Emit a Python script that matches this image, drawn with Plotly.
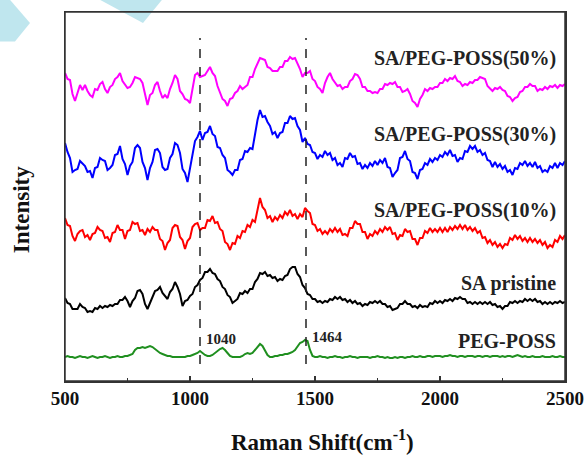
import plotly.graph_objects as go

# Raman shift axis (cm^-1), sampled every 10 cm^-1
raman_shift = list(range(500, 2501, 10))

# Raw intensities (a.u.)
peg_poss_50 = [
    37, 31, 30, 16, 9, 17, 25, 20, 25, 19,
    15, 13, 21, 20, 26, 28, 21, 17, 23, 25,
    31, 33, 37, 29, 25, 22, 23, 27, 33, 32,
    31, 27, 16, 5, 15, 17, 25, 28, 19, 12,
    15, 12, 21, 27, 35, 31, 19, 16, 11, 10,
    7, 21, 35, 37, 33, 34, 35, 39, 43, 37,
    34, 24, 18, 11, 9, 4, 11, 12, 17, 19,
    24, 21, 23, 25, 33, 33, 41, 47, 52, 51,
    50, 43, 42, 39, 39, 39, 43, 43, 49, 49,
    53, 51, 52, 46, 41, 33, 37, 37, 39, 31,
    29, 23, 21, 17, 27, 33, 37, 31, 27, 24,
    25, 21, 23, 23, 29, 31, 36, 35, 31, 23,
    23, 19, 19, 17, 18, 17, 21, 21, 26, 25,
    27, 26, 28, 23, 23, 18, 19, 21, 16, 9,
    7, 3, 11, 15, 21, 19, 22, 21, 23, 23,
    27, 27, 31, 29, 32, 31, 34, 29, 28, 24,
    26, 25, 28, 27, 30, 30, 33, 32, 31, 24,
    21, 19, 22, 21, 23, 20, 19, 14, 13, 9,
    12, 13, 18, 19, 23, 23, 26, 24, 24, 19,
    21, 20, 23, 21, 24, 23, 25, 22, 25, 24,
    26,
]

peg_poss_30 = [
    42, 33, 27, 13, 15, 16, 24, 21, 19, 13,
    14, 7, 17, 18, 27, 25, 24, 15, 17, 20,
    30, 31, 39, 26, 21, 10, 19, 23, 37, 40,
    37, 23, 17, 5, 17, 23, 35, 36, 32, 18,
    15, 16, 27, 31, 42, 40, 32, 16, 12, 3,
    17, 28, 44, 48, 54, 45, 52, 53, 59, 51,
    49, 38, 37, 30, 27, 15, 13, 10, 15, 15,
    25, 26, 34, 33, 37, 36, 52, 65, 75, 68,
    69, 63, 59, 51, 53, 47, 52, 53, 62, 62,
    69, 66, 67, 59, 55, 43, 47, 41, 40, 33,
    32, 26, 30, 28, 34, 30, 32, 25, 27, 20,
    22, 18, 27, 26, 32, 28, 29, 21, 22, 16,
    20, 17, 22, 19, 24, 20, 25, 22, 27, 18,
    17, 8, 12, 15, 27, 28, 34, 26, 24, 13,
    12, 6, 15, 16, 22, 20, 26, 23, 27, 25,
    30, 28, 33, 30, 35, 29, 30, 23, 27, 26,
    34, 33, 39, 36, 39, 33, 35, 30, 32, 25,
    24, 18, 23, 18, 21, 16, 19, 13, 15, 10,
    17, 16, 22, 20, 24, 19, 22, 18, 23, 17,
    19, 13, 15, 13, 19, 17, 22, 17, 22, 20,
    24,
]

peg_poss_10 = [
    37, 30, 29, 19, 14, 21, 24, 25, 18, 20,
    15, 21, 22, 28, 25, 24, 17, 18, 13, 22,
    23, 30, 25, 25, 16, 24, 25, 33, 31, 32,
    24, 25, 20, 26, 23, 28, 25, 25, 16, 14,
    5, 12, 15, 27, 30, 29, 18, 15, 6, 14,
    17, 28, 31, 32, 25, 27, 27, 35, 34, 39,
    32, 33, 26, 24, 13, 11, 5, 12, 11, 19,
    17, 24, 23, 30, 28, 35, 33, 47, 57, 48,
    45, 37, 39, 33, 38, 35, 40, 37, 43, 40,
    45, 39, 41, 36, 41, 38, 47, 44, 42, 31,
    30, 24, 26, 21, 24, 21, 26, 23, 27, 23,
    26, 20, 21, 19, 27, 27, 34, 31, 31, 23,
    23, 16, 21, 19, 24, 21, 26, 23, 28, 25,
    28, 21, 22, 15, 20, 19, 26, 23, 24, 16,
    16, 10, 17, 17, 24, 22, 27, 23, 26, 23,
    27, 23, 27, 23, 28, 25, 29, 26, 30, 26,
    30, 25, 28, 24, 27, 22, 24, 17, 18, 12,
    15, 10, 13, 8, 11, 7, 11, 10, 17, 15,
    20, 16, 19, 14, 17, 13, 17, 13, 16, 12,
    15, 10, 13, 7, 10, 8, 15, 13, 19, 16,
    20,
]

sa_pristine = [
    17, 12, 11, 6, 6, 6, 11, 8, 7, 3,
    4, 3, 7, 6, 9, 7, 9, 8, 10, 9,
    11, 11, 15, 15, 18, 14, 8, 14, 17, 24,
    25, 21, 11, 6, 12, 18, 24, 25, 28, 22,
    19, 16, 23, 26, 33, 28, 21, 9, 14, 15,
    19, 21, 28, 30, 35, 37, 43, 43, 46, 42,
    41, 36, 34, 28, 26, 20, 18, 12, 14, 16,
    22, 21, 24, 22, 26, 26, 33, 36, 42, 41,
    43, 39, 40, 37, 38, 34, 36, 35, 39, 40,
    46, 48, 48, 41, 38, 30, 27, 21, 20, 16,
    16, 13, 14, 12, 14, 13, 16, 15, 18, 16,
    18, 15, 16, 13, 15, 12, 14, 11, 12, 9,
    11, 10, 13, 12, 14, 12, 14, 11, 11, 8,
    9, 5, 6, 7, 11, 11, 14, 11, 11, 8,
    9, 7, 10, 8, 9, 8, 12, 11, 14, 12,
    14, 12, 15, 14, 16, 14, 17, 16, 18, 16,
    16, 12, 13, 11, 13, 11, 13, 11, 13, 11,
    13, 10, 11, 8, 9, 6, 9, 9, 13, 12,
    14, 12, 14, 13, 16, 14, 16, 14, 16, 13,
    14, 11, 13, 11, 13, 11, 13, 12, 14, 12,
    13,
]

peg_poss = [
    5, 6, 5, 5, 4, 5, 6, 5, 5, 4,
    5, 6, 5, 4, 5, 5, 6, 5, 4, 5,
    5, 6, 5, 5, 6, 6, 7, 8, 12, 14,
    14, 15, 14, 15, 16, 15, 13, 11, 9, 8,
    7, 6, 6, 5, 5, 5, 5, 5, 5, 6,
    6, 7, 8, 9, 11, 9, 7, 6, 6, 7,
    9, 11, 13, 14, 12, 9, 6, 5, 5, 5,
    5, 6, 8, 9, 8, 9, 12, 16, 18, 16,
    11, 7, 5, 5, 6, 6, 7, 7, 8, 8,
    9, 10, 12, 16, 19, 20, 22, 21, 12, 6,
    5, 5, 6, 5, 5, 4, 5, 5, 6, 5,
    5, 4, 5, 5, 6, 5, 5, 4, 5, 5,
    5, 5, 4, 5, 5, 6, 5, 5, 4, 5,
    4, 4, 5, 4, 5, 5, 4, 5, 5, 6,
    5, 5, 6, 5, 5, 6, 6, 5, 6, 6,
    6, 5, 6, 6, 7, 6, 6, 5, 6, 6,
    5, 6, 6, 6, 5, 6, 6, 5, 6, 6,
    5, 6, 6, 6, 5, 6, 5, 6, 6, 5,
    6, 7, 6, 5, 6, 5, 5, 6, 5, 5,
    5, 6, 5, 5, 5, 6, 5, 5, 6, 5,
    5,
]

series_names = ["SA/PEG-POSS(50%)", "SA/PEG-POSS(30%)", "SA/PEG-POSS(10%)",
                "SA pristine", "PEG-POSS"]
series_values = [peg_poss_50, peg_poss_30, peg_poss_10, sa_pristine, peg_poss]
series_offsets = [271, 196, 126, 66, 19]
series_colors = ["#ff00ff", "#0000ff", "#ff0000", "#000000", "#1f8f1f"]
label_y = [323, 247, 171, 98, 40]

marked_peaks = [1040, 1464]
peak_label_y = [42, 44]

x_ticks = [500, 1000, 1500, 2000, 2500]
x_minor = [750, 1250, 1750, 2250]

FONT = "Liberation Serif, Times New Roman, serif"

fig = go.Figure()
for name, vals, off, col in zip(series_names, series_values, series_offsets, series_colors):
    fig.add_trace(go.Scatter(
        x=raman_shift, y=[v + off for v in vals], mode="lines", name=name,
        line=dict(color=col, width=2), showlegend=False, hoverinfo="skip",
    ))

for pk in marked_peaks:
    fig.add_trace(go.Scatter(
        x=[pk, pk], y=[17, 343], mode="lines", showlegend=False, hoverinfo="skip",
        line=dict(color="#222222", width=1.5, dash="dash"),
    ))

for name, ly in zip(series_names, label_y):
    fig.add_annotation(x=2470, y=ly, text="<b>%s</b>" % name, showarrow=False,
                       xanchor="right", yanchor="middle",
                       font=dict(family=FONT, size=20, color="#222222"))

for pk, ly in zip(marked_peaks, peak_label_y):
    fig.add_annotation(x=pk + 14, y=ly, text="<b>%d</b>" % pk, showarrow=False,
                       xanchor="left", yanchor="middle",
                       font=dict(family=FONT, size=15, color="#222222"))

# axis titles
fig.add_annotation(x=0.514, y=-0.16, xref="paper", yref="paper",
                   text="<b>Raman Shift(cm<sup>-1</sup>)</b>", showarrow=False,
                   xanchor="center", yanchor="middle",
                   font=dict(family=FONT, size=23, color="#111111"))
fig.add_annotation(x=-0.088, y=0.463, xref="paper", yref="paper",
                   text="<b>Intensity</b>", showarrow=False, textangle=-90,
                   xanchor="center", yanchor="middle",
                   font=dict(family=FONT, size=23, color="#111111"))

# plot frame
fig.add_shape(type="rect", xref="paper", yref="paper", x0=0, x1=1, y0=0, y1=1,
              line=dict(color="#333333", width=1.5), layer="above")

# light-blue decoration at the top-left corner of the image
fig.add_shape(type="path", xref="paper", yref="paper", layer="below",
              path="M -0.13,1.033 L -0.11,1.033 L -0.07,0.97 L -0.10,0.92 L -0.13,0.92 Z",
              fillcolor="#bfe6ee", line=dict(width=0))
fig.add_shape(type="path", xref="paper", yref="paper", layer="below",
              path="M 0.07,1.033 L 0.194,1.033 L 0.156,0.97 Z",
              fillcolor="#bfe6ee", line=dict(width=0))

fig.update_layout(
    width=587, height=458,
    margin=dict(l=65, r=22, t=12, b=77, autoexpand=False),
    paper_bgcolor="white", plot_bgcolor="white",
    font=dict(family=FONT, color="#111111"),
    hovermode=False,
    xaxis=dict(
        range=[500, 2500], tickvals=x_ticks, automargin=False,
        ticks="inside", ticklen=5, tickwidth=1.2, tickcolor="#333333",
        minor=dict(tickvals=x_minor, ticks="inside", ticklen=3,
                   tickcolor="#333333", tickwidth=1.2),
        showline=True, linecolor="#333333", linewidth=1.5, mirror=True,
        showgrid=False, zeroline=False,
        tickfont=dict(family=FONT, size=19, color="#111111", weight="bold"),
        ticklabelstandoff=0,
    ),
    yaxis=dict(
        range=[0, 369], showticklabels=False, ticks="", automargin=False,
        showline=True, linecolor="#333333", linewidth=1.5, mirror=True,
        showgrid=False, zeroline=False,
    ),
)

fig.write_html("out.html", config={"displayModeBar": False, "staticPlot": True},
               post_script="document.body.style.margin='0px';document.body.style.overflow='hidden';")
